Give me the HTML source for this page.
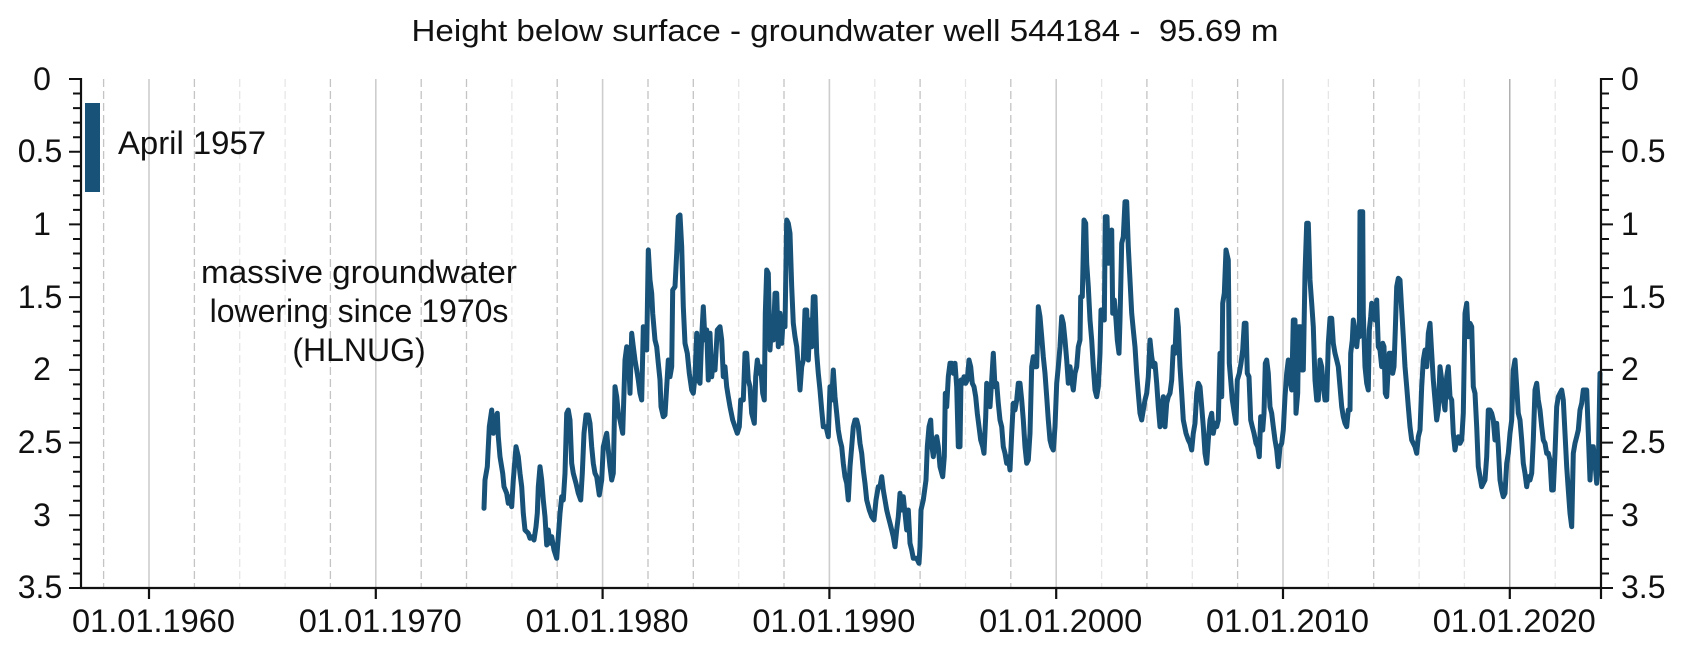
<!DOCTYPE html>
<html><head><meta charset="utf-8"><style>
html,body{margin:0;padding:0;background:#fff;}
svg{display:block;}
text{font-family:"Liberation Sans",Arial,sans-serif;fill:#111;}
</style></head><body>
<svg width="1684" height="650" viewBox="0 0 1684 650" xmlns="http://www.w3.org/2000/svg">
<rect width="1684" height="650" fill="#fff"/>
<text x="845" y="41" font-size="31" text-anchor="middle" textLength="867" lengthAdjust="spacingAndGlyphs">Height below surface - groundwater well 544184 -&#160; 95.69 m</text>

<!-- dashed gridlines, darker -->
<g stroke="#c4c4c4" stroke-width="1.3" stroke-dasharray="8 4" fill="none">
<path d="M103.6 79V588M194.4 79V588M330.4 79V588M421.2 79V588M466.5 79V588M557.2 79V588M648 79V588M693.3 79V588M784 79V588M920.1 79V588M1010.8 79V588M1146.9 79V588M1237.6 79V588M1373.7 79V588"/>
</g>
<g stroke="#e6e6e6" stroke-width="1.3" stroke-dasharray="8 4" fill="none">
<path d="M239.7 79V588M285.1 79V588M511.9 79V588M738.7 79V588M874.8 79V588M965.5 79V588M1101.6 79V588M1192.3 79V588M1328.4 79V588M1419.1 79V588M1464.4 79V588M1555.2 79V588"/>
</g>
<g stroke="#cdcdcd" stroke-width="1.6" fill="none">
<path d="M149 79V588M375.8 79V588M602.6 79V588M829.4 79V588M1056.2 79V588M1283 79V588"/>
</g>
<path d="M1509.8 79V588" stroke="#9c9c9c" stroke-width="1.2"/>

<!-- April 1957 bar -->
<rect x="85" y="103" width="15" height="89" fill="#185278"/>
<text x="118" y="154" font-size="32" textLength="148" lengthAdjust="spacingAndGlyphs">April 1957</text>

<!-- annotation -->
<text x="359" y="283" font-size="32" text-anchor="middle" textLength="316" lengthAdjust="spacingAndGlyphs">massive groundwater</text>
<text x="359" y="322" font-size="32" text-anchor="middle">lowering since 1970s</text>
<text x="359" y="361" font-size="32" text-anchor="middle">(HLNUG)</text>

<!-- series -->
<polyline fill="none" stroke="#185278" stroke-width="5" stroke-linejoin="round" stroke-linecap="round" points="
484,508.3 485,480 487.3,466.7 489.3,426.7 491.7,410 493.3,433.3 495,420 497.3,413.3 498.3,436.7 500,456.7 502.7,473.3 504,486.7 506.7,493.3 508.3,503.3 510,496.7 511.7,506.7 513.3,480 516,446.7 518.3,456.7 520,473.3 521.7,486.7 523.3,513.3 525,530 528.3,533.3 530,538.3 532.3,536.7 534,540 536,526.7 537.3,513.3 538.3,486.7 540,466.7 541.7,480 543.3,500 545,516.7 546.7,545 548.3,530 550,543.3 551.7,536.7 554,550 556.7,558.3 558.3,536.7 560,513.3 561.7,496.7 563.3,500 565,473.3 566.7,413.3 568.3,410 570,420 571.7,463.3 573.3,473.3 576,483.3 578.3,493.3 580.7,500 582.3,473.3 584,433.3 586,415 588.3,415 590,423.3 591.7,446.7 593.3,463.3 595,473.3 596.7,476.7 599.3,495 601.7,480 603.3,446.7 605,440 606.7,433.3 608.3,450 610,466.7 611.7,480 613.3,473.3 615,386.7 616.7,396.7 618.3,413.3 620,420 622.7,433.3 625,360 626.7,346.7 628.3,353.3 630,393.3 631.7,333.3 633.3,346.7 635,360 636.7,370 638.3,380 640,393.3 641.7,400 643.3,326.7 645,336.7 646.7,350 648.3,250 650,280 651.7,293.3 652.7,313.3 655,340 656.7,346.7 658.3,363.3 660,380 661,406.7 663.3,416.7 665,415 666.7,386.7 668.3,360 670,376.7 671.7,366.7 672.7,290 675,286.7 676.7,253.3 678.3,216.7 680,215 681.7,246.7 683.3,306.7 685,343.3 687.3,353.3 689.3,373.3 691.7,390 693.3,393.3 695,376.7 696.7,333.3 698.3,380 700,383.3 701.7,336.7 703.3,306.7 705,340 706.7,330 708.3,380 710,333.3 711.7,376.7 713.3,360 715,370 717.3,330
720,326.7 721.7,340 723.3,376.7 725,366.7 726.7,386.7 728.3,396.7 730,406.7 732.7,420 735,426.7 737.3,433.3 739.3,426.7 740.7,400 743.3,400 745,353.3 746.7,353.3 748.3,380 750,386.7 751.7,413.3 754.3,423.3 755.7,376.7 757.3,360 759.3,373.3 760.7,366.7 762.7,393.3 764.3,400 765.3,313.3 766.7,270 768.3,273.3 770,350 771.7,320 773.3,340 775,293.3 776.7,293.3 778.3,346.7 780,313.3 781.7,343.3 783.3,316.7 785,326.7 786.7,220 788.3,223.3 790,233.3 791.7,286.7 793.3,323.3 795,336.7 796.7,346.7 798.3,366.7 800,390 801.7,366.7 803.3,360 805,310 806.7,310 808.3,360 810,320 811.7,346.7 813.3,296.7 815,296.7 816.7,353.3 818.3,373.3 820,390 821.7,410 823.3,426.7 826,426.7 828.3,436.7 830,386.7 831.7,400 833.3,370 835,396.7 836.7,413.3 838.3,430 840,440 841.7,446.7 843.3,463.3 845,476.7 846.7,483.3 848.3,500 850,466.7 851.7,446.7 853.3,426.7 855,420 856.7,420 858.3,426.7 860,443.3 861.7,453.3 863.3,470 865,483.3 866.7,500 869.3,510 871.7,516.7 874,520 876,500 878.3,486.7 880,486.7 881.7,476.7 883.3,490 885,500 886.7,510 888.3,516.7 890,523.3 891.7,530 893.3,536.7 895,546.7 896.7,530 898.3,516.7 900,493.3 901.7,510 903.3,496.7 905,513.3 906.7,530 908.3,510 910,543.3 911.7,550 913.3,558.3 916.7,558.3 919,563.3 920,546.7 921,510 923.3,500 926,480 927.3,446.7 929,426.7 930.7,420 932,446.7 933.3,456.7 935,443.3 936.7,436.7 938.3,446.7 940,466.7 942.7,476.7 944.3,456.7 945.3,393.3 946.7,406.7 948.3,376.7 950,363.3 951.7,363.3 953.3,373.3 955,363.3 956.7,386.7 958.3,446.7
960,446.7 961,380 962.7,383.3 964,376.7 965.7,383.3 967.3,380 969,360 970.7,366.7 972.3,383.3 974,386.7 975.7,396.7 977.3,413.3 979,426.7 980.7,440 982.7,446.7 984,453.3 985.7,416.7 986.7,383.3 988.3,393.3 990,406.7 991.7,380 993.3,353.3 995,386.7 996.7,383.3 998.3,403.3 1000,420 1001.7,426.7 1003.3,446.7 1005,453.3 1006.7,463.3 1008.3,456.7 1010,470 1011.7,433.3 1013.3,403.3 1015,410 1016.7,400 1018.3,383.3 1020,383.3 1021.7,400 1023.3,420 1025,446.7 1026.7,463.3 1028.3,460 1030,433.3 1031.7,366.7 1033.3,356.7 1035,366.7 1036.7,366.7 1038.3,306.7 1040,316.7 1041.7,336.7 1043.3,356.7 1045,373.3 1046.7,396.7 1048.3,420 1050,440 1051.7,446.7 1053.3,450 1055,426.7 1056.7,383.3 1058.3,366.7 1060,346.7 1061.7,316.7 1063.3,323.3 1065,340 1066.7,360 1068.3,383.3 1070,366.7 1071.7,380 1073.3,390 1075,373.3 1076.7,366.7 1078.3,346.7 1080,340 1080.7,296.7 1082.3,296.7 1084,220 1085.7,223.3 1086.7,263.3 1088.3,286.7 1090,320 1091.7,340 1093.3,366.7 1095,390 1096.7,396.7 1098.3,386.7 1100,353.3 1101,310 1102.7,310 1104.3,320 1105.3,216.7 1107,216.7 1108.3,263.3 1110,236.7 1111.7,230 1112.7,313.3 1114.3,300 1116,320 1117.3,340 1119,353.3 1120,320 1121.7,243.3 1123.3,236.7 1125,201.7 1126.7,201.7 1128.3,246.7 1130,280 1131.7,313.3 1133.3,330 1135,346.7 1136.7,373.3 1138.3,393.3 1140,413.3 1141.7,420 1143.3,410 1145,400 1146.7,393.3 1148.3,376.7 1150,340 1151.7,356.7 1153.3,366.7 1155,363.3 1156.7,383.3 1158.3,406.7 1160,426.7 1161.7,406.7 1163.3,396.7 1165,426.7 1166.7,403.3 1168.3,396.7 1170,393.3 1171.7,380 1173.3,346.7 1175,353.3 1176.7,310 1178.3,326.7 1180,366.7 1181.7,393.3 1183.3,420 1186,433.3 1188.3,440 1190,443.3 1191.7,450 1193.3,433.3 1195,423.3 1196.7,393.3 1198.3,383.3
1200,386.7 1201.7,406.7 1203.3,426.7 1205,453.3 1206.7,463.3 1208.3,440 1210,420 1211.7,413.3 1213.3,433.3 1215,423.3 1216.7,426.7 1218.3,420 1220,353.3 1221.7,396.7 1222.7,303.3 1224.3,293.3 1226,250 1228.3,260 1229.3,363.3 1230.7,380 1232.3,400 1234.3,413.3 1236,423.3 1237.3,380 1239.3,373.3 1241,363.3 1242.7,350 1244.3,323.3 1246,323.3 1247.3,373.3 1249,376.7 1250.7,420 1252.3,426.7 1254,433.3 1256,443.3 1257.7,446.7 1259.3,456.7 1260.7,416.7 1262.7,430 1264,413.3 1265.3,363.3 1266.7,360 1268.3,373.3 1270,406.7 1271.7,413.3 1273.3,426.7 1275,440 1276.7,450 1278.3,466.7 1280,446.7 1281.7,443.3 1283.3,430 1285,396.7 1286.7,373.3 1288.3,360 1290,380 1291.7,390 1293.3,320 1295,320 1296,413.3 1297.7,393.3 1298.7,326.7 1300.7,326.7 1301.7,370 1303.3,370 1305,273.3 1306.7,223.3 1308.3,223.3 1310,280 1311.7,303.3 1313.3,326.7 1315,380 1316.7,400 1318.3,400 1320,360 1321.7,366.7 1323.3,386.7 1325,400 1326.7,400 1328.3,343.3 1330,318.3 1331.7,318.3 1333.3,343.3 1335,353.3 1336.7,360 1338.3,366.7 1340,386.7 1341.7,406.7 1343.3,416.7 1345,423.3 1346.7,426.7 1348.3,410 1350,410 1350.7,353.3 1352.3,340 1353.3,320 1355,330 1356.7,346.7 1358.3,330 1359.3,336.7 1360,211.7 1362.7,211.7 1363.3,313.3 1365,366.7 1366.7,383.3 1368.3,390 1369.3,330 1370.7,316.7 1371.7,303.3 1373.3,306.7 1375,320 1376.7,300 1378.3,346.7 1380,350 1381.7,366.7 1382.7,343.3 1384,346.7 1385.3,393.3 1386.7,396.7 1388.3,366.7 1389.3,353.3 1391,353.3 1392.7,373.3 1394,366.7 1395.3,330 1396.7,286.7 1398.3,278.3 1400,280 1401.7,310 1403.3,336.7 1405,366.7 1406.7,386.7 1408.3,406.7 1410,426.7 1411.7,440 1413.3,443.3 1415,446.7 1416.7,453.3 1418.3,436.7 1420,430 1421.7,386.7 1423.3,360 1425,350 1426.7,366.7 1428.3,333.3 1430,323.3 1431.7,353.3 1433.3,380 1435,400 1436.7,420 1438.3,410
1440,366.7 1441.7,380 1443.3,400 1445,410 1446.7,376.7 1448.3,366.7 1450,396.7 1451.7,400 1453.3,433.3 1455,450 1456.7,440 1458.3,436.7 1460,443.3 1461.7,440 1463.3,413.3 1465,313.3 1466.7,303.3 1468.3,336.7 1470,323.3 1471.7,326.7 1473.3,386.7 1475,393.3 1476.7,426.7 1478.3,466.7 1480,476.7 1481.7,486.7 1483.3,483.3 1485,480 1486.7,456.7 1488.3,410 1490,410 1491.7,413.3 1493.3,420 1495,440 1496.7,423.3 1498.3,446.7 1500,480 1501.7,490 1503.3,496.7 1505,493.3 1506.7,463.3 1508.3,453.3 1510,433.3 1511.7,420 1513.3,370 1515,360 1516.7,386.7 1518.3,413.3 1520,420 1521.7,440 1523.3,463.3 1525,473.3 1526.7,486.7 1528.3,476.7 1530,480 1531.7,473.3 1533.3,440 1535,390 1536.7,383.3 1538.3,400 1540,410 1541.7,426.7 1543.3,440 1545,443.3 1546.7,453.3 1548.3,453.3 1550,460 1551.7,490 1553.3,490 1555,453.3 1556.7,406.7 1558.3,396.7 1560,393.3 1561.7,390 1563.3,400 1565,433.3 1566.7,466.7 1568.3,490 1570,513.3 1571.7,526.7 1573.3,453.3 1575,443.3 1576.7,436.7 1578.3,430 1580,410 1581.7,403.3 1583.3,390 1585,390 1586.7,390 1588.3,433.3 1590,480 1591.7,446.7 1593.3,446.7 1595,463.3 1596.7,483.3 1598.3,466.7 1600,373.3"/>

<!-- axes -->
<g stroke="#111" fill="none">
<path d="M81 78V589M80 588H1602M1601 78V589" stroke-width="2.2"/>
<path stroke-width="2" d="M73 93.5h8M73 108.1h8M73 122.6h8M73 137.2h8M73 166.3h8M73 180.8h8M73 195.3h8M73 209.9h8M73 239h8M73 253.5h8M73 268.1h8M73 282.6h8M73 311.7h8M73 326.2h8M73 340.8h8M73 355.3h8M73 384.4h8M73 398.9h8M73 413.5h8M73 428h8M73 457.1h8M73 471.7h8M73 486.2h8M73 500.7h8M73 529.8h8M73 544.4h8M73 558.9h8M73 573.5h8"/>
<path stroke-width="2" d="M69 79h12M69 151.7h12M69 224.4h12M69 297.1h12M69 369.9h12M69 442.6h12M69 515.3h12M69 588h12"/>
<path stroke-width="2" d="M1601 93.5h8M1601 108.1h8M1601 122.6h8M1601 137.2h8M1601 166.3h8M1601 180.8h8M1601 195.3h8M1601 209.9h8M1601 239h8M1601 253.5h8M1601 268.1h8M1601 282.6h8M1601 311.7h8M1601 326.2h8M1601 340.8h8M1601 355.3h8M1601 384.4h8M1601 398.9h8M1601 413.5h8M1601 428h8M1601 457.1h8M1601 471.7h8M1601 486.2h8M1601 500.7h8M1601 529.8h8M1601 544.4h8M1601 558.9h8M1601 573.5h8"/>
<path stroke-width="2" d="M1601 79h12M1601 151.7h12M1601 224.4h12M1601 297.1h12M1601 369.9h12M1601 442.6h12M1601 515.3h12M1601 588h12"/>
<path stroke-width="2.2" d="M149 588v11M375.8 588v11M602.6 588v11M829.4 588v11M1056.2 588v11M1283 588v11M1509.8 588v11M1601 588v11"/>
</g>

<!-- left y labels -->
<g font-size="32" text-anchor="middle">
<text x="42" y="90">0</text>
<text x="40" y="162">0.5</text>
<text x="42" y="235">1</text>
<text x="40" y="308">1.5</text>
<text x="42" y="380">2</text>
<text x="40" y="453">2.5</text>
<text x="42" y="526">3</text>
<text x="40" y="598">3.5</text>
</g>
<!-- right y labels -->
<g font-size="32">
<text x="1621" y="90">0</text>
<text x="1621" y="162">0.5</text>
<text x="1621" y="235">1</text>
<text x="1621" y="308">1.5</text>
<text x="1621" y="380">2</text>
<text x="1621" y="453">2.5</text>
<text x="1621" y="526">3</text>
<text x="1621" y="598">3.5</text>
</g>
<!-- x labels -->
<g font-size="32" text-anchor="middle">
<text x="153.5" y="632" textLength="163" lengthAdjust="spacingAndGlyphs">01.01.1960</text>
<text x="380.3" y="632" textLength="163" lengthAdjust="spacingAndGlyphs">01.01.1970</text>
<text x="607.1" y="632" textLength="163" lengthAdjust="spacingAndGlyphs">01.01.1980</text>
<text x="833.9" y="632" textLength="163" lengthAdjust="spacingAndGlyphs">01.01.1990</text>
<text x="1060.7" y="632" textLength="163" lengthAdjust="spacingAndGlyphs">01.01.2000</text>
<text x="1287.5" y="632" textLength="163" lengthAdjust="spacingAndGlyphs">01.01.2010</text>
<text x="1514.3" y="632" textLength="163" lengthAdjust="spacingAndGlyphs">01.01.2020</text>
</g>
</svg>
</body></html>
